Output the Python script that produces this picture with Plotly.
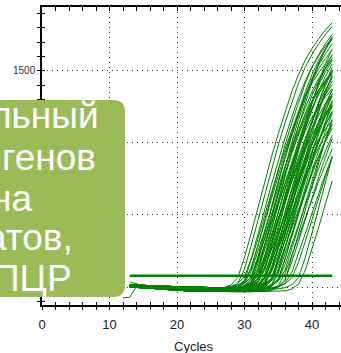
import plotly.graph_objects as go

# ---------------- data ----------------
cycles_base = list(range(12, 26))   # early cycles 12..25
cycles_rise = list(range(26, 44))   # cycles 26..43

base_v0 = [None, 5, 8, 4, 0, -4, -8, -12, -15, -18, -20, -22, -24, -25]
base_v1 = [None, 10, 12, 8, 5, 2, 0, -3, -6, -8, -10, -12, -14, -15]
base_v2 = [None, 15, 14, 12, 10, 8, 6, 4, 2, 0, -2, -3, -4, -5]
base_v3 = [None, 0, -2, -5, -8, -12, -16, -20, -23, -26, -28, -30, -31, -32]
base_v4 = [-75, -72, 5, 6, 4, 2, 0, -3, -6, -8, -10, -12, -14, -15]
base_v5 = [None, 35, 20, 10, 6, 3, 2, 0, -2, -4, -6, -8, -9, -10]

c01 = [-13,-5,15,65,205,375,555,735,905,1065,1215,1355,1475,1575,1655,1725,1785,1835]
c02 = [-24,-19,-5,25,125,290,465,645,820,985,1140,1285,1415,1525,1615,1690,1755,1810]
c03 = [-5,-3,5,24,73,198,363,538,713,877,1033,1178,1314,1430,1527,1605,1673,1731]
c04 = [-32,-30,-23,-5,45,183,336,498,660,813,957,1092,1218,1326,1416,1488,1551,1605]
c05 = [-15,-14,-9,5,35,130,290,465,645,820,985,1140,1285,1415,1525,1615,1690,1755]
c06 = [-15,-14,-10,2,28,108,244,393,546,695,835,967,1090,1201,1294,1371,1434,1490]
c07 = [-25,-25,-23,-15,5,58,205,375,555,735,905,1065,1215,1355,1475,1575,1655,1725]
c08 = [-5,-5,-3,4,23,69,187,344,509,675,831,979,1117,1245,1356,1448,1521,1586]
c09 = [-32,-32,-30,-24,-8,35,161,297,441,585,721,849,969,1081,1177,1257,1321,1377]
c10 = [-15,-15,-14,-9,5,36,133,296,475,658,837,1005,1163,1311,1444,1556,1648,1724]
c11 = [-10,-10,-9,-5,8,34,113,253,407,566,720,865,1001,1129,1243,1340,1419,1485]
c12 = [-25,-25,-24,-20,-10,15,94,214,345,480,611,735,851,960,1058,1140,1208,1264]
c13 = [-5,-5,-5,-3,6,27,75,216,395,584,773,951,1119,1277,1424,1550,1655,1739]
c14 = [-15,-15,-15,-13,-5,14,61,194,356,527,698,859,1011,1154,1287,1401,1496,1572]
c15 = [-32,-32,-32,-30,-23,-6,40,172,317,470,623,767,903,1031,1150,1252,1337,1405]
c16 = [-25,-25,-25,-24,-18,-4,33,139,258,384,510,629,741,846,944,1028,1098,1154]
c17 = [-15,-15,-15,-14,-9,5,35,130,290,465,645,820,985,1140,1285,1415,1525,1615]
c18 = [-5,-5,-5,-4,0,13,40,116,260,417,579,737,885,1025,1155,1272,1371,1452]
c19 = [-32,-32,-32,-31,-27,-16,8,90,223,359,500,636,765,886,999,1100,1186,1256]
c20 = [-25,-25,-25,-25,-23,-14,7,62,216,395,584,773,951,1119,1277,1424,1550,1655]
c21 = [-15,-15,-15,-15,-13,-5,14,61,194,356,527,698,859,1011,1154,1287,1401,1496]
c22 = [-5,-5,-5,-5,-3,4,21,63,172,317,470,623,767,903,1031,1150,1252,1337]
c23 = [-32,-32,-32,-32,-31,-25,-10,28,143,266,395,525,647,763,871,971,1058,1130]
c24 = [-25,-25,-25,-25,-24,-19,-5,25,125,290,465,645,820,985,1140,1285,1415,1525]
c25 = [-15,-15,-15,-15,-14,-10,3,30,116,260,417,579,737,885,1025,1155,1272,1371]
c26 = [-5,-5,-5,-5,-4,0,11,35,105,229,369,513,653,785,909,1025,1129,1217]
c27 = [-32,-32,-32,-32,-32,-30,-22,-2,50,205,375,555,735,905,1065,1215,1355,1475]
c28 = [-25,-25,-25,-25,-25,-23,-16,1,48,179,328,487,645,795,935,1067,1191,1296]
c29 = [-15,-15,-15,-15,-15,-13,-7,8,45,150,278,413,548,675,795,908,1013,1103]
c30 = [-5,-5,-5,-5,-5,-4,1,14,43,123,275,441,612,778,935,1082,1220,1344]
c31 = [-32,-32,-32,-32,-32,-31,-27,-16,10,95,229,369,513,653,785,909,1025,1129]
c32 = [-25,-25,-25,-25,-25,-25,-23,-15,4,55,194,356,527,698,859,1011,1154,1287]
c33 = [-15,-15,-15,-15,-15,-15,-13,-7,8,47,157,289,430,570,703,827,944,1054]
c34 = [-5,-5,-5,-5,-5,-5,-4,0,13,40,116,260,417,579,737,885,1025,1155]
c35 = [-32,-32,-32,-32,-32,-32,-31,-27,-17,10,94,214,345,480,611,735,851,960]
c36 = [-25,-25,-25,-25,-25,-25,-25,-23,-16,3,53,172,317,470,623,767,903,1031]
c37 = [-15,-15,-15,-15,-15,-15,-15,-14,-10,1,25,101,229,369,513,653,785,909]
c38 = [-5,-5,-5,-5,-5,-5,-5,-5,-3,4,21,63,172,317,470,623,767,903]
c39 = [-32,-32,-32,-32,-32,-32,-32,-32,-32,-31,-27,-14,20,116,260,417,579,737]
c40 = [-15,-15,-15,-15,-15,-15,-15,-15,-15,-13,-5,15,65,205,375,555,735,905]
c41 = [-5,-5,-3,5,24,73,213,378,553,728,892,1048,1193,1329,1445,1542,1620,1688]
c42 = [-32,-32,-31,-26,-13,20,115,284,446,614,777,930,1074,1209,1330,1432,1516,1586]
c43 = [-25,-25,-25,-23,-16,5,55,198,351,513,675,828,972,1107,1233,1341,1431,1503]
c44 = [-15,-15,-15,-14,-9,4,33,138,290,456,627,793,950,1097,1235,1359,1463,1549]
c45 = [-5,-5,-5,-5,-3,4,22,67,198,351,513,675,828,972,1107,1233,1341,1431]
c46 = [-32,-32,-32,-32,-31,-26,-13,16,115,290,456,627,793,950,1097,1235,1359,1463]
c47 = [-15,-15,-15,-15,-15,-13,-6,13,59,202,359,524,690,846,994,1132,1260,1371]
c48 = [-25,-25,-25,-25,-25,-24,-20,-7,19,110,268,422,581,735,880,1016,1144,1258]
c49 = [-5,-4,1,14,42,135,284,446,614,777,930,1074,1209,1330,1432,1516,1586,1646]
c50 = [-15,-15,-15,-15,-13,-7,9,49,176,312,456,600,736,864,984,1096,1192,1272]
c51 = [-5,-5,-5,-3,3,19,59,176,312,456,600,736,864,984,1096,1192,1272,1336]
c52 = [-15,-15,-15,-15,-15,-15,-13,-6,11,55,194,343,502,660,810,950,1082,1206]
c53 = [-32,-32,-32,-32,-32,-32,-32,-30,-22,-3,44,209,371,542,713,874,1026,1169]
c54 = [-5,-5,-5,-5,-5,-3,3,20,61,180,320,467,615,754,886,1009,1123,1222]
c55 = [-15,-15,-13,-6,11,54,189,335,490,645,791,929,1058,1178,1281,1367,1436,1496]
c56 = [-25,-25,-25,-25,-24,-20,-8,18,125,262,413,568,718,860,993,1118,1230,1324]

curves = [c01, c02, c03, c04, c05, c06, c07, c08, c09, c10,
          c11, c12, c13, c14, c15, c16, c17, c18, c19, c20,
          c21, c22, c23, c24, c25, c26, c27, c28, c29, c30,
          c31, c32, c33, c34, c35, c36, c37, c38, c39, c40,
          c41, c42, c43, c44, c45, c46, c47, c48, c49, c50,
          c51, c52, c53, c54, c55, c56]
baselines = [base_v1, base_v0, base_v2, base_v3, base_v1, base_v4, base_v0, base_v2, base_v3, base_v1,
             base_v5, base_v0, base_v2, base_v1, base_v3, base_v0, base_v1, base_v2, base_v3, base_v0,
             base_v1, base_v2, base_v3, base_v0, base_v1, base_v2, base_v3, base_v0, base_v1, base_v2,
             base_v3, base_v0, base_v1, base_v2, base_v3, base_v0, base_v1, base_v2, base_v3, base_v1,
             base_v2, base_v3, base_v0, base_v1, base_v2, base_v3, base_v1, base_v0, base_v2, base_v1,
             base_v2, base_v1, base_v3, base_v2, base_v1, base_v0]

threshold_cycles = [13, 43]
threshold_value = 78

x_ticks = [0, 10, 20, 30, 40]
y_ticks = [0, 500, 1000, 1500]
y_ticktext = ["", "", "", "1500"]   # the lower labels are hidden behind the green box

box_lines = ["льный", "генов", "на", "атов,", "ПЦР"]
x_title = "Cycles"

# ---------------- layout helpers ----------------
W, H = 341, 353
L, R, T, B = 42, 0, 7, 48
PW, PH = W - L - R, H - T - B

def px(xp):
    return (xp - L) / PW

def py(yp):
    return (H - B - yp) / PH

GREEN = "#008000"
NARROW = "Liberation Sans Narrow, Arial Narrow, Liberation Sans, Arial, sans-serif"

fig = go.Figure()
for base, rise in zip(baselines, curves):
    fig.add_trace(go.Scatter(x=cycles_base + cycles_rise, y=base + rise,
                             mode="lines", line=dict(color=GREEN, width=1),
                             hoverinfo="skip", showlegend=False))
fig.add_trace(go.Scatter(x=threshold_cycles, y=[threshold_value] * len(threshold_cycles),
                         mode="lines", line=dict(color=GREEN, width=2.5),
                         hoverinfo="skip", showlegend=False))

grid = dict(showgrid=True, gridcolor="#333333", gridwidth=1, griddash="1px,4px", zeroline=False,
            automargin=False)
tickfont = dict(family=NARROW, size=13, color="#222222")

fig.update_layout(
    template="none",
    width=W, height=H,
    margin=dict(l=L, r=R, t=T, b=B, pad=0, autoexpand=False),
    paper_bgcolor="white", plot_bgcolor="white",
    showlegend=False,
    xaxis=dict(range=[0, (W - L) / 6.75], tickvals=x_ticks, ticks="outside", ticklen=3,
               tickcolor="black", showline=True, linecolor="black", linewidth=1.5,
               tickfont=tickfont, ticklabelstandoff=4,
               minor=dict(dtick=2, tick0=0, ticks="outside", ticklen=3, tickcolor="black", showgrid=False),
               **grid),
    xaxis2=dict(overlaying="x", matches="x", side="bottom", anchor="y", ticks="inside", ticklen=3,
                tickvals=x_ticks, tickcolor="black", showticklabels=False, showgrid=False, zeroline=False,
                automargin=False,
                minor=dict(dtick=2, tick0=0, ticks="inside", ticklen=3, tickcolor="black")),
    xaxis3=dict(overlaying="x", matches="x", side="top", anchor="y", ticks="inside", ticklen=4,
                tickvals=x_ticks, tickcolor="black", showticklabels=False, showgrid=False, zeroline=False,
                showline=True, linecolor="black", linewidth=2, automargin=False,
                minor=dict(dtick=2, tick0=0, ticks="inside", ticklen=4, tickcolor="black")),
    yaxis=dict(range=[-125, 1944], tickvals=y_ticks, ticktext=y_ticktext, ticks="outside", ticklen=3,
               tickcolor="black", showline=True, linecolor="black", linewidth=1.5,
               tickfont=dict(family=NARROW, size=10, color="#333333"),
               minor=dict(dtick=100, tick0=0, ticks="outside", ticklen=3, tickcolor="black", showgrid=False),
               **grid),
    yaxis2=dict(overlaying="y", matches="y", side="left", anchor="x", ticks="inside", ticklen=3,
                tickvals=y_ticks, tickcolor="black", showticklabels=False, showgrid=False, zeroline=False,
                automargin=False,
                minor=dict(dtick=100, tick0=0, ticks="inside", ticklen=3, tickcolor="black")),
)
# invisible traces to activate the overlay axes
fig.add_trace(go.Scatter(x=[None], y=[None], xaxis="x2", yaxis="y", showlegend=False, hoverinfo="skip"))
fig.add_trace(go.Scatter(x=[None], y=[None], xaxis="x3", yaxis="y", showlegend=False, hoverinfo="skip"))
fig.add_trace(go.Scatter(x=[None], y=[None], xaxis="x", yaxis="y2", showlegend=False, hoverinfo="skip"))

# green rounded box (cropped at left edge)
xl, xr, yt, yb, rad = -30, 125, 100, 297, 12
path = (f"M {px(xl)},{py(yt)} L {px(xr - rad)},{py(yt)} Q {px(xr)},{py(yt)} {px(xr)},{py(yt + rad)} "
        f"L {px(xr)},{py(yb - rad)} Q {px(xr)},{py(yb)} {px(xr - rad)},{py(yb)} L {px(xl)},{py(yb)} Z")
fig.add_shape(type="path", path=path, xref="paper", yref="paper", layer="above",
              fillcolor="#9BBB59", line=dict(width=0))

text_right = [101, 98, 34, 75, 74]
text_mid = [116, 157, 198, 238, 278]
for txt, xr_, ym in zip(box_lines, text_right, text_mid):
    fig.add_annotation(text=txt, xref="paper", yref="paper", x=px(xr_), y=py(ym),
                       xanchor="right", yanchor="middle", showarrow=False,
                       font=dict(family=NARROW, size=37, color="white"))

fig.add_annotation(text=x_title, xref="paper", yref="paper", x=px(194), y=py(346),
                   xanchor="center", yanchor="middle", showarrow=False,
                   font=dict(family=NARROW, size=13, color="#222222"))

fig.write_html("out.html", config={"displayModeBar": False},
               post_script="document.body.style.margin='0';document.body.style.padding='0';")
